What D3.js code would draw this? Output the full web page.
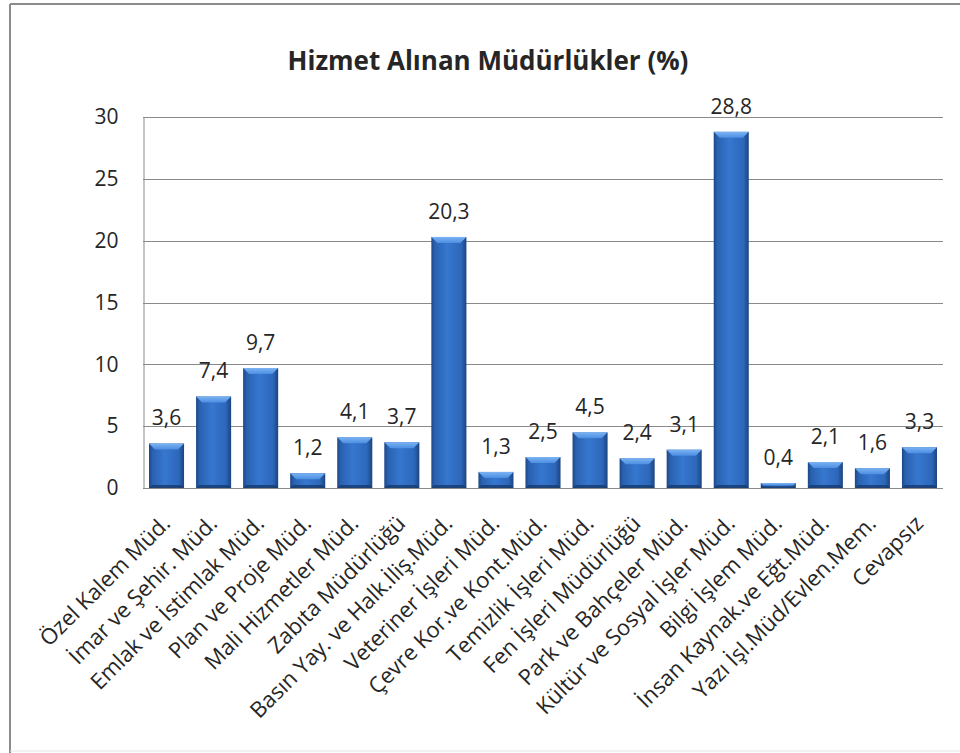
<!DOCTYPE html>
<html>
<head>
<meta charset="utf-8">
<script src="https://cdn.jsdelivr.net/npm/d3@7"></script>
<style>
  html, body { margin: 0; padding: 0; background: #fff; }
  svg { display: block; }
  text { font-family: "Open Sans", "Liberation Sans", sans-serif; fill: #262626; }
</style>
</head>
<body>
<svg id="chart" width="960" height="753"></svg>
<script>
const title = "Hizmet Alınan Müdürlükler (%)";
const categories = [
  "Özel Kalem Müd.",
  "İmar ve Şehir. Müd.",
  "Emlak ve İstimlak Müd.",
  "Plan ve Proje Müd.",
  "Mali Hizmetler Müd.",
  "Zabıta Müdürlüğü",
  "Basın Yay. ve Halk.İliş.Müd.",
  "Veteriner İşleri Müd.",
  "Çevre Kor.ve Kont.Müd.",
  "Temizlik İşleri Müd.",
  "Fen İşleri Müdürlüğü",
  "Park ve Bahçeler Müd.",
  "Kültür ve Sosyal İşler Müd.",
  "Bilgi İşlem Müd.",
  "İnsan Kaynak.ve Eğt.Müd.",
  "Yazı İşl.Müd/Evlen.Mem.",
  "Cevapsız"
];
const values = [3.6, 7.4, 9.7, 1.2, 4.1, 3.7, 20.3, 1.3, 2.5, 4.5, 2.4, 3.1, 28.8, 0.4, 2.1, 1.6, 3.3];
const yTicks = [0, 5, 10, 15, 20, 25, 30];

const svg = d3.select("#chart");
const plot = { left: 143, right: 943, top: 117, bottom: 488 };

// outer frame
svg.append("line").attr("x1", 10).attr("y1", 4).attr("x2", 10).attr("y2", 753)
  .attr("stroke", "#8c8c8c").attr("stroke-width", 2);
svg.append("line").attr("x1", 10).attr("y1", 4).attr("x2", 960).attr("y2", 4)
  .attr("stroke", "#8c8c8c").attr("stroke-width", 2);
svg.append("line").attr("x1", 10).attr("y1", 751).attr("x2", 960).attr("y2", 751)
  .attr("stroke", "#e4e4e4").attr("stroke-width", 1);

const x = d3.scaleBand().domain(categories).range([plot.left, plot.right])
  .paddingInner(0.255).paddingOuter(0.1275);
const y = d3.scaleLinear().domain([0, 30]).range([plot.bottom, plot.top]);

// gradients
const defs = svg.append("defs");
const g1 = defs.append("linearGradient").attr("id", "barGrad")
  .attr("x1", "0%").attr("x2", "100%").attr("y1", "0%").attr("y2", "0%");
[["0%", "#1c4785"], ["10%", "#2a61b0"], ["45%", "#3677cf"], ["85%", "#2d67ba"], ["100%", "#1b447f"]]
  .forEach(([o, c]) => g1.append("stop").attr("offset", o).attr("stop-color", c));
const g2 = defs.append("linearGradient").attr("id", "topGrad")
  .attr("x1", "0%").attr("x2", "0%").attr("y1", "0%").attr("y2", "100%");
[["0%", "#7cb3f2"], ["100%", "#4b8ee2"]]
  .forEach(([o, c]) => g2.append("stop").attr("offset", o).attr("stop-color", c));

// gridlines
svg.append("g").selectAll("line").data(yTicks.filter(d => d > 0)).join("line")
  .attr("x1", plot.left).attr("x2", plot.right)
  .attr("y1", d => Math.round(y(d)) + 0.5).attr("y2", d => Math.round(y(d)) + 0.5)
  .attr("stroke", "#8a8a8a").attr("stroke-width", 1);

// y axis
const yAxis = svg.append("g").attr("transform", `translate(${plot.left + 0.5},0)`)
  .call(d3.axisLeft(y).tickValues(yTicks).tickSize(0).tickPadding(25).tickFormat(d3.format("d")));
yAxis.select(".domain").attr("stroke", "#8a8a8a");
yAxis.selectAll("text").style("font-size", "21px").attr("fill", "#262626");

// bars
const bars = svg.append("g").selectAll("g").data(categories).join("g");
bars.append("rect")
  .attr("x", d => x(d)).attr("width", x.bandwidth())
  .attr("y", (d, i) => y(values[i])).attr("height", (d, i) => y(0) - y(values[i]))
  .attr("fill", "url(#barGrad)");
const bev = 6;
bars.append("path")
  .attr("d", (d, i) => {
    const x0 = x(d), x1 = x(d) + x.bandwidth(), yt = y(values[i]);
    const h = Math.min(bev, (y(0) - yt) / 2);
    return `M${x0},${yt}L${x1},${yt}L${x1 - h},${yt + h}L${x0 + h},${yt + h}Z`;
  })
  .attr("fill", "url(#topGrad)");
bars.append("path")
  .attr("d", (d, i) => {
    const x0 = x(d), x1 = x(d) + x.bandwidth(), yb = y(0);
    const h = Math.min(3, (y(0) - y(values[i])) / 3);
    return `M${x0},${yb}L${x1},${yb}L${x1 - h},${yb - h}L${x0 + h},${yb - h}Z`;
  })
  .attr("fill", "#17396b").attr("opacity", 0.8);

// x axis line
svg.append("line").attr("x1", plot.left).attr("x2", plot.right)
  .attr("y1", y(0) + 0.5).attr("y2", y(0) + 0.5).attr("stroke", "#8a8a8a");

// value labels
svg.append("g").selectAll("text").data(categories).join("text")
  .attr("x", d => x(d) + x.bandwidth() / 2)
  .attr("y", (d, i) => y(values[i]) - 18)
  .attr("text-anchor", "middle")
  .style("font-size", "21px")
  .text((d, i) => d3.format(".1f")(values[i]).replace(".", ","));

// category labels
svg.append("g").selectAll("text").data(categories).join("text")
  .attr("transform", d => `translate(${x(d) + x.bandwidth() / 2 + 5},${plot.bottom + 37}) rotate(-45)`)
  .attr("text-anchor", "end")
  .style("font-size", "22px")
  .text(d => d);

// title
svg.append("text").attr("x", 488).attr("y", 70).attr("text-anchor", "middle")
  .style("font-size", "26px").style("font-weight", "bold").attr("fill", "#1a1a1a")
  .text(title);
</script>
</body>
</html>
